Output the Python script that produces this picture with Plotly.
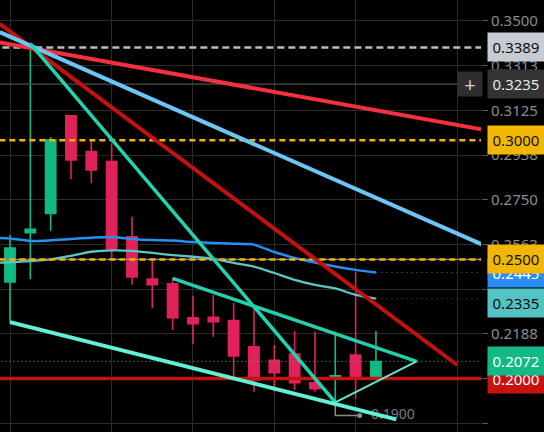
import plotly.graph_objects as go

# ---------------- data ----------------
candle_idx = list(range(19))
opens  = [0.2405, 0.2612, 0.2693, 0.3102, 0.2952, 0.2910, 0.2595, 0.2418, 0.2398, 0.2255,
          0.2257, 0.2243, 0.2133, 0.2077, 0.2103, 0.1982, 0.2004, 0.2099, 0.2004]
highs  = [0.2602, 0.3405, 0.3012, 0.3102, 0.3001, 0.2987, 0.2679, 0.2497, 0.2421, 0.2348,
          0.2351, 0.2318, 0.2295, 0.2141, 0.2200, 0.2197, 0.2197, 0.2448, 0.2200]
lows   = [0.2237, 0.2418, 0.2620, 0.2836, 0.2819, 0.2502, 0.2394, 0.2295, 0.2204, 0.2144,
          0.2176, 0.1994, 0.1945, 0.1945, 0.1952, 0.1945, 0.1900, 0.1917, 0.2000]
closes = [0.2548, 0.2626, 0.3001, 0.2917, 0.2875, 0.2544, 0.2426, 0.2394, 0.2255, 0.2230,
          0.2239, 0.2095, 0.1994, 0.2025, 0.1983, 0.1958, 0.2012, 0.2001, 0.2072]

ma_idx = list(range(-1, 19))
ma_blue = [0.2590, 0.2588, 0.2577, 0.2580, 0.2586, 0.2591, 0.2594, 0.2586, 0.2581, 0.2579, 0.2573,
           0.2569, 0.2566, 0.2562, 0.2531, 0.2506, 0.2487, 0.2470, 0.2456, 0.2445]
ma_teal = [0.2485, 0.2488, 0.2493, 0.2500, 0.2515, 0.2532, 0.2538, 0.2536, 0.2527, 0.2518, 0.2511,
           0.2502, 0.2485, 0.2470, 0.2443, 0.2414, 0.2393, 0.2378, 0.2351, 0.2335]

level_gray = 0.3389
level_cross = 0.3235
levels_yellow = [0.3000, 0.2500]
level_red = 0.2000

# trend lines: (x list, y list)
tl_dark_red_x, tl_dark_red_y = [-0.5, 22.0], [0.3488, 0.2057]
tl_red_x, tl_red_y = [-0.5, 23.5], [0.3410, 0.3041]
tl_blue_x, tl_blue_y = [-0.5, 23.5], [0.3453, 0.2552]
tl_steep_x, tl_steep_y = [1, 16], [0.3405, 0.1900]
tl_top_x, tl_top_y = [8, 20], [0.2420, 0.2072]
tl_bot_x, tl_bot_y = [0, 19], [0.2237, 0.1829]
tl_right_x, tl_right_y = [16, 20], [0.1900, 0.2072]

ytick_vals = [0.35, 0.33125, 0.3125, 0.29375, 0.275, 0.25625, 0.2375, 0.21875, 0.2, 0.18125]
ytick_text = ["0.3500", "0.3313", "0.3125", "0.2938", "0.2750", "0.2563", "", "0.2188", "", "0.1813"]
xgrid_vals = [0, 5, 9, 13, 17, 22]

# ---------------- style ----------------
GREEN = "#12b886"
RED = "#e0225a"
FONT = "Noto Sans"
XR = [-0.4919, 23.168]
YR = [0.1776, 0.3588]
XL = [-2, 25]

fig = go.Figure()

fig.add_trace(go.Candlestick(
    x=candle_idx, open=opens, high=highs, low=lows, close=closes,
    increasing=dict(line=dict(color=GREEN, width=1.6), fillcolor=GREEN),
    decreasing=dict(line=dict(color=RED, width=1.6), fillcolor=RED),
    whiskerwidth=0, showlegend=False, hoverinfo="skip"))

def line(x, y, color, width, dash=None):
    fig.add_trace(go.Scatter(x=x, y=y, mode="lines", showlegend=False, hoverinfo="skip",
                             line=dict(color=color, width=width, dash=dash, shape="spline",
                                       smoothing=0.6)))

# moving averages
line(ma_idx, ma_blue, "#2590f2", 2.5)
line(ma_idx, ma_teal, "#5cc6c6", 2.3)
line([ma_idx[-1], XL[1]], [ma_blue[-1]] * 2, "#1c3a52", 1, "2px,3px")
line([ma_idx[-1], XL[1]], [ma_teal[-1]] * 2, "#1d3a3a", 1, "2px,3px")

# horizontal levels
line(XL, [level_cross] * 2, "#4e4e4e", 1.2)
line(XL, [level_gray] * 2, "#b9bcc4", 2.5, "7px,4px")
line(XL, [levels_yellow[1]] * 2, "#8a8a99", 1.2)
for lv in levels_yellow:
    line(XL, [lv] * 2, "#f0b400", 2.5, "6px,4px")
line(XL, [closes[-1]] * 2, GREEN, 1.2, "1px,3px")
line(XL, [level_red] * 2, "#c8120f", 3.5)

# low marker label (under the trend lines)
low_i = min(range(len(lows)), key=lambda i: lows[i])
low_v = lows[low_i]
fig.add_trace(go.Scatter(x=[low_i, low_i, low_i + 1.2], y=[low_v, low_v - 0.0055, low_v - 0.0055],
                         mode="lines", line=dict(color="#8a8a8a", width=1.5),
                         showlegend=False, hoverinfo="skip"))
fig.add_trace(go.Scatter(x=[low_i + 1.2], y=[low_v - 0.0055], mode="markers+text",
                         marker=dict(color="#8a8a8a", size=5),
                         text=["  %.4f" % low_v], textposition="middle right",
                         textfont=dict(family=FONT, size=14, color="#7c7c7c"),
                         showlegend=False, hoverinfo="skip"))

# trend lines
line(tl_dark_red_x, tl_dark_red_y, "#c4110f", 4)
line(tl_red_x, tl_red_y, "#f5303e", 4)
line(tl_blue_x, tl_blue_y, "#6cc6f5", 4)
line(tl_steep_x, tl_steep_y, "#22d3b0", 3.5)
line(tl_top_x, tl_top_y, "#25cfad", 3.5)
line(tl_bot_x, tl_bot_y, "#62f1d6", 4)
line(tl_right_x, tl_right_y, "#5ee8cf", 2)

# price labels on the right axis
def box(y, text, bg, fg, yshift=0):
    fig.add_annotation(xref="paper", yref="y", x=1, y=y, xanchor="left", yanchor="middle",
                       xshift=6, yshift=yshift, text=text, showarrow=False,
                       bgcolor=bg, width=52, height=24, borderpad=2, align="center",
                       font=dict(family=FONT, size=15, color=fg))

box(level_gray, "%.4f" % level_gray, "#c7cbd3", "#111111")
box(level_cross, "%.4f" % level_cross, "#333333", "#e6e6e6")
box(levels_yellow[0], "%.4f" % levels_yellow[0], "#f2b705", "#111111")
box(ma_blue[-1], "%.4f" % ma_blue[-1], "#2a8cf0", "#ffffff")
box(levels_yellow[1], "%.4f" % levels_yellow[1], "#f2b705", "#111111")
box(ma_teal[-1], "%.4f" % ma_teal[-1], "#52c2c2", "#111111", yshift=-4)
box(level_red, "%.4f" % level_red, "#c8120f", "#ffffff")
box(closes[-1], "%.4f" % closes[-1], GREEN, "#ffffff")

# "+" button next to the crosshair label
fig.add_annotation(xref="paper", yref="y", x=1, y=level_cross, xanchor="right", yanchor="middle",
                   xshift=2, text="+", showarrow=False, bgcolor="#2e2e2e",
                   width=22, height=22, borderpad=1,
                   font=dict(family=FONT, size=20, color="#cfcfcf"))

fig.update_layout(
    width=544, height=432, margin=dict(l=0, r=63, t=0, b=0),
    paper_bgcolor="#000000", plot_bgcolor="#000000",
    boxgap=0.28, showlegend=False, dragmode=False,
    xaxis=dict(range=XR, showticklabels=False, tickvals=xgrid_vals, showgrid=True,
               gridcolor="#2a2a2a", gridwidth=1, zeroline=False, showline=False,
               rangeslider=dict(visible=False), fixedrange=True),
    yaxis=dict(range=YR, side="right", tickvals=ytick_vals, ticktext=ytick_text,
               showgrid=True, gridcolor="#2a2a2a", gridwidth=1, zeroline=False,
               showline=False, ticks="outside", ticklen=6, tickcolor="#555555",
               tickfont=dict(family=FONT, size=15, color="#8c8c8c"), fixedrange=True),
)

fig.write_html("out.html", config={"displayModeBar": False},
               post_script="document.body.style.margin='0px';document.body.style.background='#000';")
